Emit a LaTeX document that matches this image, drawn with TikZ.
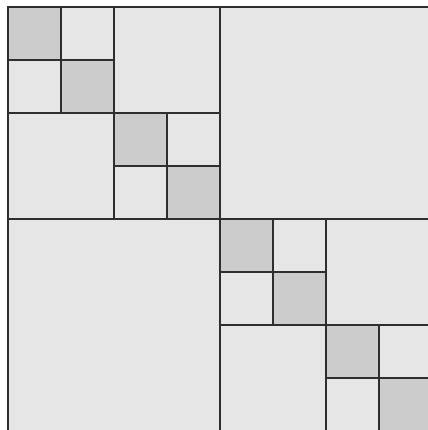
\documentclass[tikz,border=0pt]{standalone}
\definecolor{blocklight}{HTML}{E6E6E6}
\definecolor{blockdark}{HTML}{CCCCCC}
\definecolor{blockline}{HTML}{2E2E2E}
\tikzset{
  lowrank/.style={fill=blocklight,draw=blockline,line width=.65pt},
  dense/.style={fill=blockdark,draw=blockline,line width=.65pt}
}

\begin{document}
\begin{tikzpicture}[x=1cm,y=-1cm]
    \useasboundingbox (-.1509,-.1321) rectangle (7.9245,7.9811);
    \clip (-.1509,-.1321) rectangle (7.9245,7.9811);
    \foreach \c/\r/\s in {4/0/4,0/4/4,2/0/2,0/2/2,6/4/2,4/6/2,
                          1/0/1,0/1/1,3/2/1,2/3/1,5/4/1,4/5/1,7/6/1,6/7/1}
      \draw[lowrank] (\c,\r) rectangle ++(\s,\s);
    \foreach \k in {0,...,7}
      \draw[dense] (\k,\k) rectangle ++(1,1);
  \end{tikzpicture}
\end{document}
